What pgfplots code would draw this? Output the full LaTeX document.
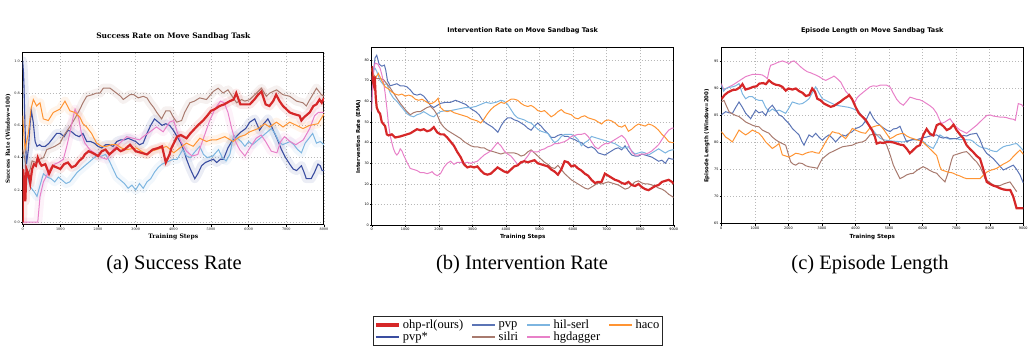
\documentclass[border=0pt]{standalone}
\usepackage{fontspec}
\setmainfont{Liberation Serif}
\newfontfamily\djserif{DejaVu Serif}
\newfontfamily\djsans{DejaVu Sans}
\usepackage{pgfplots}
\usepackage{pgfplotstable}
\pgfplotsset{compat=1.18}

\definecolor{cred}{HTML}{D62728}
\definecolor{cpvps}{HTML}{3A4DA0}
\definecolor{cpvp}{HTML}{5B74B5}
\definecolor{chil}{HTML}{7DB5E0}
\definecolor{csil}{HTML}{A87A6E}
\definecolor{chg}{HTML}{E880C8}
\definecolor{chaco}{HTML}{FF9433}

% ---------- Success rate data (panel a) ----------
\pgfplotstableread{
x y
0 0.0
10 0.33
40 0.25
70 0.13
100 0.33
150 0.30
200 0.24
250 0.33
300 0.36
350 0.35
400 0.40
450 0.37
500 0.35
600 0.36
700 0.30
800 0.35
900 0.34
1000 0.33
1100 0.36
1200 0.37
1300 0.34
1400 0.35
1500 0.38
1600 0.40
1650 0.42
1750 0.44
1850 0.43
2000 0.41
2100 0.44
2200 0.45
2300 0.42
2400 0.44
2500 0.46
2600 0.44
2700 0.45
2850 0.48
3000 0.44
3150 0.43
3300 0.42
3450 0.45
3600 0.46
3700 0.47
3800 0.37
3900 0.42
3950 0.46
4100 0.53
4200 0.54
4350 0.52
4450 0.55
4530 0.57
4650 0.60
4790 0.63
4900 0.66
5000 0.69
5100 0.70
5230 0.72
5350 0.73
5500 0.75
5600 0.76
5670 0.80
5780 0.73
5900 0.73
6030 0.73
6150 0.76
6250 0.79
6340 0.81
6450 0.73
6550 0.72
6650 0.75
6730 0.79
6820 0.75
6910 0.72
7000 0.70
7090 0.68
7200 0.67
7350 0.66
7400 0.63
7470 0.65
7620 0.68
7720 0.72
7800 0.73
7880 0.76
7940 0.74
8000 0.77
}\aRed

\pgfplotstableread{
x y
0 1.0
20 0.93
35 0.84
60 0.60
100 0.36
150 0.45
200 0.62
230 0.69
280 0.62
330 0.50
380 0.47
450 0.48
500 0.47
600 0.47
700 0.49
800 0.52
900 0.55
1000 0.55
1100 0.53
1200 0.57
1300 0.56
1400 0.54
1500 0.53
1600 0.55
1700 0.50
1800 0.50
1900 0.49
2000 0.47
2100 0.46
2200 0.48
2300 0.48
2400 0.47
2500 0.50
2600 0.51
2700 0.51
2800 0.52
2900 0.51
3000 0.50
3100 0.48
3200 0.49
3300 0.55
3400 0.60
3500 0.64
3600 0.62
3700 0.60
3800 0.61
3900 0.60
4000 0.57
4100 0.53
4200 0.49
4300 0.43
4350 0.39
4450 0.33
4570 0.27
4650 0.30
4750 0.35
4850 0.37
4950 0.38
5060 0.39
5150 0.37
5250 0.39
5330 0.39
5450 0.46
5550 0.50
5670 0.53
5800 0.56
5920 0.58
6030 0.62
6160 0.64
6290 0.57
6400 0.61
6510 0.64
6580 0.61
6650 0.57
6750 0.52
6870 0.45
6980 0.40
7090 0.36
7180 0.33
7270 0.32
7400 0.35
7470 0.31
7530 0.27
7660 0.27
7750 0.31
7840 0.36
7900 0.35
7950 0.32
8000 0.32
}\aBlue

\pgfplotstableread{
x y
0 0.42
50 0.40
100 0.30
200 0.22
300 0.19
380 0.16
450 0.22
550 0.30
650 0.28
750 0.27
850 0.25
950 0.28
1050 0.26
1150 0.24
1250 0.25
1350 0.28
1450 0.31
1550 0.33
1650 0.35
1800 0.38
1950 0.41
2100 0.41
2200 0.42
2300 0.38
2400 0.33
2500 0.28
2600 0.26
2700 0.24
2800 0.21
2900 0.23
3000 0.20
3100 0.24
3200 0.21
3300 0.25
3400 0.27
3500 0.31
3600 0.34
3700 0.36
3800 0.37
3900 0.38
4000 0.39
4100 0.39
4250 0.45
4350 0.41
4450 0.40
4550 0.43
4700 0.47
4800 0.42
4900 0.40
5050 0.41
5200 0.45
5300 0.40
5400 0.38
5500 0.42
5600 0.54
5700 0.52
5800 0.50
5900 0.47
6000 0.50
6100 0.48
6200 0.50
6300 0.52
6400 0.54
6500 0.56
6600 0.58
6700 0.55
6800 0.50
6900 0.48
7000 0.49
7100 0.50
7200 0.48
7300 0.45
7400 0.43
7500 0.49
7600 0.52
7700 0.55
7800 0.49
7900 0.50
8000 0.48
}\aLb

\pgfplotstableread{
x y
0 0.45
50 0.40
100 0.33
150 0.30
200 0.33
250 0.38
350 0.37
450 0.39
550 0.40
640 0.45
750 0.46
850 0.47
990 0.49
1100 0.54
1250 0.59
1380 0.64
1520 0.70
1600 0.74
1700 0.78
1850 0.79
1960 0.80
2050 0.80
2140 0.83
2320 0.83
2490 0.80
2600 0.78
2670 0.76
2850 0.79
2950 0.79
3070 0.77
3200 0.78
3300 0.77
3380 0.74
3480 0.71
3560 0.68
3690 0.64
3800 0.69
3910 0.69
4000 0.65
4090 0.62
4220 0.63
4300 0.68
4440 0.74
4560 0.75
4700 0.77
4880 0.76
5060 0.81
5190 0.83
5320 0.80
5450 0.82
5590 0.77
5680 0.74
5810 0.76
5900 0.75
6030 0.76
6210 0.80
6340 0.83
6470 0.78
6560 0.80
6650 0.81
6740 0.82
6910 0.79
7090 0.78
7270 0.75
7440 0.74
7530 0.72
7600 0.75
7700 0.79
7800 0.83
7930 0.79
8000 0.78
}\aBr

\pgfplotstableread{
x y
0 0.0
400 0.0
460 0.16
550 0.25
640 0.29
750 0.34
850 0.36
950 0.37
1080 0.39
1170 0.47
1250 0.55
1320 0.63
1390 0.70
1480 0.65
1560 0.55
1650 0.49
1780 0.45
1960 0.42
2100 0.40
2230 0.39
2400 0.45
2580 0.49
2760 0.53
2930 0.52
3100 0.51
3200 0.53
3380 0.56
3550 0.59
3730 0.56
3900 0.62
4010 0.63
4100 0.56
4200 0.50
4350 0.44
4500 0.41
4650 0.42
4800 0.52
4950 0.62
5100 0.70
5250 0.75
5350 0.74
5450 0.68
5550 0.58
5650 0.50
5760 0.45
5900 0.41
6030 0.46
6200 0.52
6330 0.54
6450 0.50
6600 0.44
6750 0.43
6850 0.50
6950 0.53
7100 0.50
7250 0.48
7450 0.51
7620 0.58
7750 0.66
7850 0.68
8000 0.68
}\aPk

\pgfplotstableread{
x y
0 0.66
30 0.55
61 0.45
150 0.55
220 0.70
282 0.76
370 0.72
459 0.74
547 0.64
680 0.63
812 0.68
989 0.70
1122 0.75
1254 0.69
1387 0.68
1520 0.65
1600 0.61
1696 0.59
1829 0.55
1961 0.49
2100 0.47
2227 0.47
2350 0.48
2492 0.48
2620 0.46
2757 0.45
3022 0.46
3150 0.44
3288 0.42
3420 0.44
3553 0.45
3700 0.46
3818 0.47
3920 0.45
4012 0.43
4172 0.46
4349 0.49
4526 0.47
4702 0.52
4880 0.50
5000 0.51
5145 0.51
5366 0.53
5587 0.50
5764 0.53
5900 0.54
6029 0.56
6250 0.58
6427 0.61
6559 0.59
6736 0.62
6913 0.59
7090 0.62
7267 0.60
7443 0.58
7620 0.60
7841 0.61
7920 0.64
8000 0.67
}\aOr

\begin{document}
\begin{tikzpicture}
\useasboundingbox (0,0) rectangle (1034pt,355pt);

\pgfplotsset{
  panel/.style={
    scale only axis, anchor=south west, clip=true,
    axis line style={black, line width=1pt},
    grid=major, grid style={dotted, black!28, line width=0.5pt},
    tick pos=left, tick align=outside, major tick length=1.6pt,
    tick style={black, line width=0.35pt},
    scaled ticks=false,
    /pgf/number format/1000 sep={},
    /pgf/number format/assume math mode=true,
    xtick={0,1000,2000,3000,4000,5000,6000,7000,8000,9000},
    xticklabel style={inner sep=1pt},
    yticklabel style={inner sep=1pt},
  },
  thin/.style={line width=1pt, forget plot},
  thick/.style={line width=2.2pt, forget plot},
  band/.style={line width=9pt, opacity=0.10, line join=round, line cap=round, forget plot},
}

% ================= (a) Success Rate =================
\begin{axis}[panel,
  at={(22.7pt,130pt)}, width=301.3pt, height=172.3pt,
  xmin=0, xmax=8000, ymin=-0.017, ymax=1.05,
  ytick={0,0.2,0.4,0.6,0.8,1.0},
  yticklabel style={/pgf/number format/.cd, fixed, fixed zerofill, precision=1},
  tick label style={font=\djserif\fontsize{3.4}{4}\selectfont},
  title={Success Rate on Move Sandbag Task},
  title style={font=\djserif\bfseries\fontsize{7.5}{9}\selectfont, at={(axis description cs:0.5,1.062)}, anchor=center},
  xlabel={Training Steps},
  xlabel style={font=\djserif\bfseries\fontsize{6.1}{7}\selectfont, at={(axis description cs:0.5,-0.07)}, anchor=center},
  ylabel={Success Rate (Window=100)},
  ylabel style={font=\djserif\bfseries\fontsize{5.6}{7}\selectfont, at={(axis description cs:-0.048,0.5)}, anchor=center},
]
\addplot[band, draw=cpvps] table {\aBlue};
\addplot[band, draw=chil] table {\aLb};
\addplot[band, draw=csil] table {\aBr};
\addplot[band, draw=chg] table {\aPk};
\addplot[band, draw=chaco] table {\aOr};
\addplot[band, draw=cred] table {\aRed};
\addplot[thin, cpvps, line width=1.1pt] table {\aBlue};
\addplot[thin, chil] table {\aLb};
\addplot[thin, csil] table {\aBr};
\addplot[thin, chg] table {\aPk};
\addplot[thin, chaco] table {\aOr};
\addplot[thick, cred] table {\aRed};
\end{axis}

% ================= (b) Intervention Rate =================
\begin{axis}[panel,
  at={(371.7pt,129.7pt)}, width=302pt, height=177.3pt,
  xmin=0, xmax=9000, ymin=0, ymax=85.8,
  ytick={0,10,20,30,40,50,60,70,80},
  tick label style={font=\djsans\fontsize{3.4}{4}\selectfont},
  title={Intervention Rate on Move Sandbag Task},
  title style={font=\djsans\bfseries\fontsize{6.5}{8}\selectfont, at={(axis description cs:0.5,1.064)}, anchor=center},
  xlabel={Training Steps},
  xlabel style={font=\djsans\bfseries\fontsize{5.6}{7}\selectfont, at={(axis description cs:0.5,-0.068)}, anchor=center},
  ylabel={Intervention Rate (EMA)},
  ylabel style={font=\djsans\bfseries\fontsize{5.4}{7}\selectfont, at={(axis description cs:-0.044,0.5)}, anchor=center},
  legend columns=4,
  legend cell align=left,
  legend image code/.code={\draw[#1] (0pt,0pt) -- (23pt,0pt);},
  legend style={at={(axis description cs:0.483,-0.596)}, anchor=center,
    draw=black!85, line width=0.6pt, fill=white,
    font=\fontsize{12.5}{14}\selectfont,
    inner xsep=1pt, inner ysep=1pt, row sep=-2pt,
    /tikz/every even column/.append style={column sep=6pt}},
]
\addlegendimage{cred, line width=4pt}
\addlegendentry{ohp-rl(ours)}
\addlegendimage{cpvp, line width=2.5pt}
\addlegendentry{pvp}
\addlegendimage{chil, line width=2.5pt}
\addlegendentry{hil-serl}
\addlegendimage{chaco, line width=2.5pt}
\addlegendentry{haco}
\addlegendimage{cpvps, line width=2.5pt}
\addlegendentry{pvp*}
\addlegendimage{csil, line width=2.5pt}
\addlegendentry{silri}
\addlegendimage{chg, line width=2.5pt}
\addlegendentry{hgdagger}

\addplot[thin, cpvp] coordinates {(0,60)(40,73)(100,81)(150,82.3)(220,78)(300,77)(380,77.5)(420,75)(470,70)(550,67.5)(650,68)(750,68.5)(850,67.5)(950,67.5)(1050,67)(1150,65.5)(1250,63.5)(1350,63)(1450,63.5)(1550,62.5)(1650,60.5)(1750,58)(1850,57)(1950,58)(2050,59)(2200,59.5)(2350,59.5)(2500,60.5)(2650,59.5)(2800,58.5)(2950,56.5)(3100,55)(3200,53.5)(3300,51)(3400,49.5)(3500,48.5)(3600,47.5)(3700,46)(3760,45)(3850,48)(3950,50.5)(4050,52)(4150,52)(4250,51)(4350,50.5)(4450,49.5)(4550,48.5)(4650,47)(4750,46)(4850,48)(4950,49.5)(5050,48)(5150,46)(5250,44.5)(5350,42.5)(5450,42.5)(5550,43.5)(5650,44)(5750,43)(5850,43)(5950,42)(6050,41.5)(6150,40.5)(6250,40)(6350,38.5)(6450,37.5)(6550,38)(6650,37)(6750,35)(6850,34.5)(6950,34)(7050,35)(7150,36)(7250,37)(7350,37.5)(7450,36.5)(7550,38.5)(7650,36)(7750,34)(7850,33.5)(7950,33.5)(8050,34.5)(8150,34)(8250,33.5)(8350,33)(8450,32)(8550,31)(8650,31.5)(8750,30)(8850,32.5)(8950,32)(9000,32)};
\addplot[thin, chil] coordinates {(0,70)(40,75)(100,76)(150,74.5)(250,70)(350,68)(450,68.5)(550,64)(650,61.5)(750,60)(850,58)(950,56)(1050,54)(1150,53)(1250,52.5)(1350,53.5)(1450,54)(1550,55)(1650,54)(1750,53)(1850,52.5)(1950,54)(2050,55)(2200,55.5)(2350,55.5)(2500,56)(2650,56.5)(2800,57)(2950,57)(3100,57.5)(3250,58.5)(3400,59.5)(3550,59)(3700,59.5)(3850,60.5)(3950,60)(4050,58.5)(4150,56)(4250,53.5)(4350,52)(4450,51.5)(4550,51)(4650,50)(4750,49.5)(4850,48)(4950,46.5)(5050,45.5)(5150,45)(5250,44.5)(5350,42)(5450,40)(5550,41)(5650,43)(5750,44)(5850,44)(5950,44)(6050,43)(6150,41.5)(6250,38.5)(6350,40)(6450,41)(6550,43)(6650,42.5)(6750,42)(6850,41.5)(6950,41)(7050,40.5)(7150,40)(7250,39.5)(7350,38.5)(7450,37.5)(7550,37.5)(7650,38)(7750,36)(7850,34.5)(7950,35)(8050,35.5)(8150,35)(8250,34)(8350,35)(8450,36)(8550,37)(8650,36)(8750,35)(8850,36)(8950,36.5)(9000,36.5)};
\addplot[thin, csil] coordinates {(0,75)(50,73)(150,71)(250,71)(350,70.5)(450,68.5)(550,66.5)(650,64)(750,61.5)(850,59)(950,57)(1050,55)(1150,53.5)(1250,54.5)(1350,55)(1450,55)(1550,56)(1650,57)(1750,57.5)(1850,56)(1950,53.5)(2050,49.5)(2150,47.5)(2250,46)(2350,45)(2450,44)(2550,43)(2650,42)(2750,40.5)(2850,39.5)(2950,38.5)(3050,38)(3150,38)(3250,37.5)(3350,37.5)(3450,36.5)(3550,36)(3650,35.5)(3750,35)(3850,34.5)(3950,35)(4050,35)(4150,35)(4250,35)(4350,34.5)(4450,33.5)(4550,34)(4650,35.5)(4750,36.5)(4850,35)(4950,33.5)(5050,32)(5150,30.5)(5250,29.5)(5350,28)(5450,27.5)(5550,29)(5650,27)(5750,25)(5850,23.5)(5950,22)(6050,21)(6150,20)(6250,19)(6350,18)(6450,17.5)(6550,18.5)(6650,19.5)(6750,20.5)(6850,20)(6950,20.5)(7050,21)(7150,20.5)(7250,20)(7350,19.5)(7450,18.5)(7550,17.5)(7650,18)(7750,19.5)(7850,21)(7950,21.5)(8050,20.5)(8150,20)(8250,20)(8350,19.5)(8450,19)(8550,18)(8650,17.5)(8750,16.5)(8850,15)(8950,14)(9000,13.5)};
\addplot[thin, chg] coordinates {(0,55)(30,68)(70,76)(100,78.5)(180,78)(250,76)(300,73)(350,69.5)(400,64)(450,57)(500,49)(550,43.5)(600,40)(650,37)(700,35)(750,34)(800,35)(850,37)(900,36)(950,34)(1050,30.5)(1150,27.5)(1250,27)(1350,26.5)(1450,25.5)(1550,25.5)(1650,25)(1750,25.5)(1800,26)(1850,25)(1950,24)(2050,25)(2150,28)(2250,30)(2350,31)(2450,29.5)(2550,30.5)(2650,30.5)(2750,30)(2850,30.5)(2950,30)(3050,30.5)(3150,31)(3250,32.5)(3350,34)(3450,35)(3550,36)(3650,38)(3750,40)(3850,38.5)(3950,36)(4050,34.5)(4150,33.5)(4250,31.5)(4350,29.5)(4450,30)(4550,31.5)(4650,33.5)(4750,36)(4850,35.5)(4950,35.5)(5050,36.5)(5150,37)(5250,38)(5350,38.5)(5450,39.5)(5550,39.5)(5650,40)(5750,40.5)(5850,41.5)(5950,43)(6050,43.5)(6150,44)(6250,44)(6350,44.5)(6450,43)(6550,40.5)(6650,38)(6750,37)(6850,38.5)(6950,39.5)(7050,39.5)(7150,40.5)(7250,41.5)(7350,42.5)(7450,43.5)(7550,42)(7650,39)(7750,35.5)(7850,34)(7950,34)(8050,34.5)(8150,34.5)(8250,35)(8350,36)(8450,37.5)(8550,39)(8650,41.5)(8750,44)(8850,46)(8950,47)(9000,47)};
\addplot[thin, chaco] coordinates {(0,76)(50,72)(100,71)(200,73.5)(300,70)(400,67)(500,66)(600,64.5)(700,63.5)(800,63)(900,63.5)(1000,62.5)(1100,63)(1200,62.5)(1300,61)(1400,60.5)(1500,61)(1600,60)(1700,59)(1800,59)(1900,60)(1980,61.5)(2050,57)(2150,55.5)(2250,55)(2350,55.5)(2450,54.5)(2550,54)(2650,53.5)(2750,53)(2850,52.5)(2950,51.5)(3050,51)(3150,50.5)(3250,49.5)(3350,51.5)(3450,54)(3550,56)(3650,57.5)(3750,58.5)(3850,59.5)(3950,59)(4050,60)(4150,61)(4250,61)(4350,60.5)(4450,59)(4550,58)(4650,57.5)(4750,58)(4850,57)(4950,55.5)(5050,55)(5150,55.5)(5250,54)(5350,52.5)(5450,53.5)(5550,55)(5650,56)(5750,54.5)(5850,54)(5950,53.5)(6050,52)(6150,51.5)(6250,52.5)(6350,53)(6450,52)(6550,51.5)(6650,51)(6750,50)(6850,49)(6950,50.5)(7050,51)(7150,50.5)(7250,49.5)(7350,48)(7450,47.5)(7550,48.5)(7650,45.5)(7750,46.5)(7850,48)(7950,49)(8050,48.5)(8150,48)(8250,49)(8350,48.5)(8450,47.5)(8550,46)(8650,44)(8750,42.5)(8850,40.5)(8950,40)(9000,40)};
\addplot[thick, cred] coordinates {(0,77)(30,70)(60,68)(90,72)(120,62)(150,57)(200,55)(250,54)(300,50)(350,49)(400,48)(450,44)(500,43.5)(600,44)(700,42.5)(850,43)(950,43.5)(1050,44)(1150,44.5)(1250,45.5)(1350,46.5)(1450,46)(1550,46.5)(1650,45.5)(1750,46)(1850,47.5)(1950,45)(2050,44)(2150,44)(2250,42.5)(2350,40.5)(2450,38.5)(2550,35.5)(2650,33)(2750,29.5)(2850,28)(2950,28.5)(3050,28)(3150,28.5)(3250,26.5)(3350,25)(3450,24.5)(3550,25)(3650,26.5)(3750,28)(3850,27)(3950,26)(4050,25.5)(4150,27)(4250,28.5)(4350,29)(4450,30.5)(4550,31)(4650,30.5)(4750,31)(4850,31.5)(4950,30)(5050,29.5)(5150,29)(5250,28.5)(5350,27)(5450,26)(5550,24.5)(5650,27)(5750,31)(5850,30.5)(5950,28.5)(6050,29)(6150,27.5)(6250,26.5)(6350,25)(6450,24)(6550,22)(6650,20.5)(6750,21)(6850,21)(6950,25)(7050,24)(7150,23)(7250,22)(7350,21.5)(7450,20.5)(7550,20)(7650,21)(7750,19.5)(7850,19)(7950,20)(8050,18.5)(8150,17.5)(8250,17)(8350,18)(8450,19)(8550,19.5)(8650,21)(8750,21.5)(8850,22)(8950,21)(9000,20)};
\end{axis}

% ================= (c) Episode Length =================
\begin{axis}[panel,
  at={(721.3pt,131pt)}, width=302pt, height=176pt,
  xmin=0, xmax=9000, ymin=64.9, ymax=97.5,
  ytick={65,70,75,80,85,90,95},
  tick label style={font=\djsans\fontsize{3.4}{4}\selectfont},
  title={Episode Length on Move Sandbag Task},
  title style={font=\djsans\bfseries\fontsize{6.5}{8}\selectfont, at={(axis description cs:0.5,1.064)}, anchor=center},
  xlabel={Training Steps},
  xlabel style={font=\djsans\bfseries\fontsize{5.6}{7}\selectfont, at={(axis description cs:0.5,-0.076)}, anchor=center},
  ylabel={Episode Length (Window=200)},
  ylabel style={font=\djsans\bfseries\fontsize{5.4}{7}\selectfont, at={(axis description cs:-0.048,0.5)}, anchor=center},
]
\addplot[thin, chg] coordinates {(0,90.9)(80,89.7)(200,90.2)(329,90.6)(430,91)(528,91.4)(627,91.8)(726,92.2)(826,92.4)(925,92.6)(1024,92.6)(1124,92.6)(1223,92.5)(1322,92.1)(1372,91.8)(1430,93.5)(1471,94.3)(1570,94.5)(1670,94.8)(1819,95.1)(1918,94.9)(2018,94.6)(2100,95)(2167,95.1)(2266,94.6)(2366,94)(2465,93.5)(2564,93.1)(2663,92.9)(2812,92.5)(2912,92.2)(3011,91.8)(3110,91.5)(3210,91.8)(3309,92.1)(3359,92.3)(3458,91.8)(3558,91.2)(3607,90.6)(3706,89.5)(3806,88.8)(3905,87.8)(3982,87.5)(4050,88.3)(4131,88.8)(4230,89.3)(4330,89.8)(4431,90.3)(4530,90.5)(4628,90.4)(4729,90.6)(4828,90.6)(4928,90.6)(5027,90.3)(5127,89.1)(5226,88)(5325,87.3)(5424,86.9)(5524,87.6)(5623,88.4)(5722,88.2)(5822,88)(5921,87.9)(6020,87.6)(6120,87.2)(6219,86.8)(6318,86.3)(6418,85.4)(6517,84)(6567,83.5)(6666,83.8)(6765,84.2)(6815,84.4)(6914,83.5)(7014,82.8)(7113,82.3)(7212,82)(7312,81.7)(7411,82.2)(7510,82.7)(7610,83.2)(7709,83.8)(7808,84.4)(7908,85)(8007,85.1)(8107,84.9)(8206,84.8)(8306,84.7)(8405,84.7)(8504,84.6)(8604,84.4)(8703,84.3)(8760,84.1)(8802,85.5)(8850,87.2)(8950,87)(9000,86.6)};
\addplot[thin, chil] coordinates {(0,90.6)(70,89.5)(130,90)(230,90.2)(329,90.3)(430,90.5)(528,90.9)(630,89)(726,88.1)(825,88.5)(925,88.5)(1024,88)(1124,87.8)(1223,87.8)(1322,86.5)(1422,85.7)(1521,86.2)(1620,85.8)(1720,86)(1820,85.7)(1918,85.4)(2017,86.4)(2117,87.5)(2216,87.3)(2316,87.1)(2415,87.2)(2514,87.6)(2614,88.1)(2712,89.2)(2812,90.3)(2910,89.2)(3011,88.1)(3110,87.8)(3210,87.5)(3310,87.2)(3408,86.9)(3508,86.8)(3607,86.7)(3706,86.6)(3806,86.5)(3905,86.3)(4004,86)(4104,85.7)(4203,84.8)(4302,83.8)(4431,83)(4530,82.2)(4630,81.4)(4729,80.8)(4828,80.5)(4928,80.4)(5027,80.3)(5226,80.2)(5424,80.1)(5524,80.3)(5623,80.4)(5722,80.5)(5822,80.5)(5921,80.5)(6020,80.2)(6120,79.6)(6219,79.2)(6318,78.9)(6418,80.1)(6517,81.4)(6616,81)(6716,80.8)(6815,80.6)(6914,80.7)(7014,80.7)(7113,80.5)(7212,80.6)(7312,80.5)(7411,80.5)(7510,80.2)(7610,79.6)(7709,79.2)(7808,79)(7908,78.9)(8007,78.6)(8107,78.4)(8206,78.3)(8306,78.8)(8405,79.2)(8504,79.4)(8604,79.5)(8703,79.7)(8802,79.8)(8901,79.2)(9000,78.5)};
\addplot[thin, cpvp] coordinates {(0,85.1)(130,85.7)(230,85.5)(330,85.4)(430,86.5)(528,87.5)(630,86.5)(726,85.4)(875,84.4)(1024,86)(1120,85.5)(1223,85.7)(1322,85)(1422,86.3)(1521,86.9)(1620,86)(1720,85.1)(1820,84.8)(1918,84.1)(2017,83.5)(2117,82.6)(2216,82)(2316,81.4)(2400,80.2)(2465,79.5)(2540,80.5)(2614,81.4)(2712,81)(2812,81.7)(2910,81)(3011,80.4)(3110,81)(3210,81.4)(3310,80.8)(3408,80.1)(3508,80.8)(3607,81.4)(3706,81.2)(3806,81.7)(3905,82)(4004,82.6)(4103,82.8)(4203,83.2)(4300,84)(4431,85.7)(4530,84.5)(4630,83.7)(4729,83.2)(4828,82.7)(4928,82.3)(5027,82)(5127,82.5)(5226,82.6)(5325,83)(5424,81.5)(5524,80.1)(5623,80.4)(5722,80.6)(5822,80.5)(5921,80.7)(6020,80.9)(6120,81)(6219,81.2)(6318,81.3)(6418,81.4)(6517,81)(6616,80.8)(6716,81)(6815,80.7)(6914,80.7)(7014,80.7)(7113,81)(7212,81.3)(7312,81.2)(7411,81.5)(7510,81.6)(7610,81.7)(7709,80.5)(7808,78.9)(7908,78)(8007,77.5)(8107,77)(8206,76.3)(8306,75.6)(8405,74.9)(8504,75.2)(8604,75.5)(8703,75.8)(8802,75)(8901,74)(9000,72.5)};
\addplot[thin, csil] coordinates {(0,87.5)(80,87.8)(150,86.8)(230,85.7)(330,85.3)(430,85)(528,84.8)(630,84.3)(726,83.8)(826,83.5)(925,83.2)(1024,83)(1124,82.9)(1223,82.3)(1322,82)(1422,81.7)(1521,81)(1620,80.5)(1720,80.1)(1820,79.8)(1918,79.5)(1990,78)(2068,76.4)(2140,76)(2216,75.8)(2316,76.2)(2415,76.1)(2514,75.7)(2614,75.5)(2712,75.4)(2812,75.3)(2862,75.2)(2940,76.2)(3011,77)(3110,77.5)(3210,78)(3309,78.3)(3408,78.6)(3508,78.9)(3607,79.2)(3706,79.3)(3806,79.4)(3905,79.5)(4004,79.8)(4104,80)(4203,80.1)(4302,80.4)(4431,81.4)(4530,81.5)(4630,81.4)(4729,81.4)(4828,80.5)(4928,79.5)(5027,77.8)(5127,75.8)(5226,74.5)(5325,73.3)(5424,73.6)(5524,74)(5623,74.2)(5722,74.3)(5822,74.8)(5921,75.2)(6020,75.5)(6120,75.2)(6219,74.8)(6318,74.5)(6418,74.3)(6517,73.6)(6616,73)(6666,72.7)(6765,74.5)(6864,76.8)(6914,77.6)(7014,77.8)(7113,78)(7212,78.2)(7312,78.3)(7411,77.7)(7510,77)(7610,76.4)(7709,75.5)(7808,74.2)(7858,73.3)(7957,72.8)(8107,72.1)(8206,72)(8306,72)(8405,72.3)(8504,72.5)(8603,72.7)(8703,71.8)(8802,70.9)};
\addplot[thin, chaco] coordinates {(0,82)(70,81.5)(130,81)(230,80.6)(329,80.1)(430,81.2)(528,82.3)(630,81.8)(726,81.4)(825,81.8)(925,82.3)(1024,82)(1124,81.7)(1223,81)(1322,80.1)(1422,79.5)(1521,78.9)(1620,79.3)(1720,79.8)(1819,77.7)(1918,77.5)(2018,77.3)(2117,77.6)(2216,78)(2316,77.9)(2415,77.7)(2514,78)(2614,78.2)(2713,78.3)(2812,78.1)(2912,78)(3011,79)(3110,80.1)(3210,81.1)(3309,82)(3408,81.8)(3508,81.7)(3607,81.2)(3706,80.7)(3806,81.6)(3905,82.6)(4004,82.3)(4104,82)(4203,81.8)(4302,81.7)(4431,82.7)(4530,82.9)(4630,83.1)(4729,83.2)(4828,82.5)(4928,81.6)(5027,80.7)(5127,81)(5226,81.4)(5325,81.6)(5424,81.7)(5524,81.2)(5623,80.9)(5722,80.7)(5822,80.5)(5921,80.3)(6020,80)(6120,79.4)(6219,78.8)(6318,78.2)(6418,77.6)(6517,75.5)(6567,74.9)(6666,74.7)(6765,74.5)(6864,74.4)(6914,74.3)(7014,74)(7113,73.8)(7212,73.5)(7312,73.3)(7411,73.3)(7510,73.3)(7610,73.3)(7709,73.3)(7808,73.9)(7908,74.5)(8007,74.8)(8107,75)(8206,75.2)(8306,75.6)(8405,76)(8504,76.3)(8603,76.7)(8703,77.4)(8802,78)(8901,78.6)(9000,77.8)};
\addplot[thick, cred] coordinates {(0,88)(100,88.8)(200,89.3)(330,89.7)(450,89.8)(550,90.2)(630,90.8)(720,89.8)(830,90)(950,90.3)(1050,90.4)(1130,90.9)(1250,91)(1330,90.8)(1420,91.5)(1520,91)(1620,90.7)(1720,90.6)(1820,90.3)(1920,89.6)(2000,90)(2120,89.8)(2220,90)(2320,89.5)(2420,89.2)(2520,88.6)(2620,88.8)(2710,90)(2790,89.4)(2860,88.1)(2960,87.8)(3060,87.2)(3160,86.9)(3260,86.6)(3360,86.8)(3460,87.2)(3560,87.6)(3660,88.1)(3760,88.5)(3810,88.8)(3900,88)(4000,86.6)(4100,85.4)(4200,84.8)(4300,84.2)(4400,83.2)(4500,82.2)(4580,81)(4630,79.8)(4730,80)(4830,79.9)(4930,80.1)(5030,80.1)(5130,80)(5230,79.8)(5330,79.6)(5430,79.5)(5530,78.8)(5620,78)(5720,78.6)(5820,79.2)(5920,79.5)(6020,81.4)(6120,82.5)(6220,81.6)(6320,81.3)(6420,83.2)(6520,83.5)(6620,83)(6720,82.3)(6820,82.6)(6920,83.3)(7010,82.3)(7110,81.5)(7210,80.8)(7310,79.5)(7410,78.8)(7510,78.2)(7610,77.5)(7710,77)(7810,75)(7910,72.7)(8010,72.3)(8110,72)(8210,71.8)(8310,71.5)(8410,71.3)(8510,71.2)(8610,71.2)(8700,70)(8800,67.8)(8900,67.8)(9000,67.8)};
\end{axis}

% ---------- captions ----------
\node[font=\fontsize{20.5}{24}\selectfont] at (174pt,90pt) {(a) Success Rate};
\node[font=\fontsize{20.5}{24}\selectfont] at (522pt,90pt) {(b) Intervention Rate};
\node[font=\fontsize{20.5}{24}\selectfont] at (870pt,90pt) {(c) Episode Length};
\end{tikzpicture}
\end{document}
